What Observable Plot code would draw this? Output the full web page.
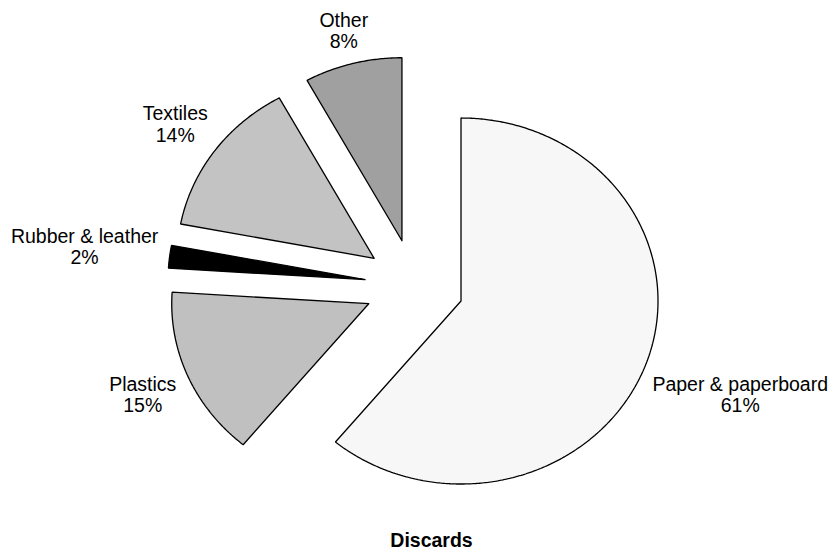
<!DOCTYPE html>
<html>
<head>
<meta charset="utf-8">
<script src="https://cdn.jsdelivr.net/npm/d3@7"></script>
<script src="https://cdn.jsdelivr.net/npm/@observablehq/plot@0.6"></script>
<style>
  html, body { margin: 0; padding: 0; background: #fff; }
  #chart svg { display: block; }
</style>
</head>
<body>
<div id="chart"></div>
<script>
// ---- data ----
const categories = ["Paper & paperboard", "Plastics", "Rubber & leather", "Textiles", "Other"];
const shares = [61, 15, 2, 14, 8];
const fills = ["#f7f7f7", "#c0c0c0", "#000000", "#c3c3c3", "#a0a0a0"];
const title = "Discards";

// ---- geometry (unit circle; scales turn it into pixels) ----
const EXPLODE = 0.252;      // explosion distance, in radius units
const LABEL_GAP = 1.05;     // label distance from slice apex, in radius units
const FONT = "Liberation Sans, Arial, sans-serif";
const FONT_SIZE = 19.5;
const RX = 197, RY = 183;   // pixel size of one radius unit (x, y)

const total = d3.sum(shares);
const ctx = document.createElement("canvas").getContext("2d");
ctx.font = `${FONT_SIZE}px "Liberation Sans"`;

const points = [];
const labels = [];
let acc = 0;
categories.forEach((cat, i) => {
  const a0 = acc / total * 2 * Math.PI;
  acc += shares[i];
  const a1 = acc / total * 2 * Math.PI;
  const mid = (a0 + a1) / 2;
  const ox = EXPLODE * Math.sin(mid), oy = EXPLODE * Math.cos(mid);
  const fill = fills[i];
  points.push({x: ox, y: oy, k: cat, fill});
  const n = Math.max(2, Math.ceil((a1 - a0) / (Math.PI / 360)));
  for (let j = 0; j <= n; ++j) {
    const t = a0 + (a1 - a0) * j / n;
    points.push({x: ox + Math.sin(t), y: oy + Math.cos(t), k: cat, fill});
  }
  points.push({x: ox, y: oy, k: cat, fill});

  const text = `${cat}\n${shares[i]}%`;
  const w = Math.max(...text.split("\n").map(s => ctx.measureText(s).width));
  const h = 40;
  const r = LABEL_GAP + Math.abs(Math.sin(mid)) * (w / 2) / RX + Math.abs(Math.cos(mid)) * (h / 2) / RY;
  labels.push({x: ox + r * Math.sin(mid), y: oy + r * Math.cos(mid), text});
});

const chart = Plot.plot({
  width: 838,
  height: 557,
  margin: 0,
  style: {background: "#fff", fontFamily: FONT},
  x: {domain: [-413.8 / RX, (838 - 413.8) / RX], axis: null},
  y: {domain: [-(557 - 284.9) / RY, 284.9 / RY], axis: null},
  color: {type: "identity"},
  marks: [
    Plot.line(points, {
      x: "x", y: "y", z: "k", fill: "fill",
      stroke: "#000", strokeWidth: 1.3, strokeLinejoin: "miter", curve: "linear"
    }),
    Plot.text(labels, {
      x: "x", y: "y", text: "text",
      fontSize: FONT_SIZE, lineHeight: 1.11, fill: "#000",
      textAnchor: "middle", lineAnchor: "middle", fontFamily: FONT
    }),
    Plot.text([title], {
      frameAnchor: "bottom", dx: 12, dy: -11,
      fontSize: FONT_SIZE, fontWeight: "bold", fill: "#000", fontFamily: FONT
    })
  ]
});
document.getElementById("chart").append(chart);
</script>
</body>
</html>
